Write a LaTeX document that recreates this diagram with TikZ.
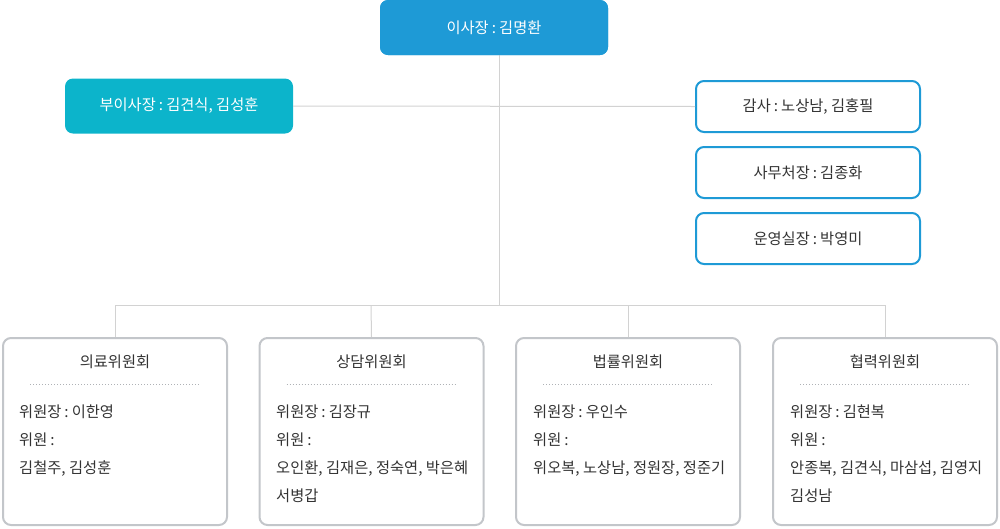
\documentclass[tikz,border=0pt]{standalone}
\usepackage{fontspec}
\setmainfont{Noto Sans CJK KR}
\definecolor{topblue}{HTML}{1E9AD6}
\definecolor{teal}{HTML}{0CB4CB}
\definecolor{boxgray}{HTML}{C3C6CA}
\definecolor{linegray}{HTML}{D2D2D2}
\definecolor{txt}{HTML}{333333}
\newcommand{\cl}{\hspace{0.2em}:\hspace{0.2em}}
\begin{document}
\begin{tikzpicture}[x=1pt,y=-1pt,
  filledbox/.style={rounded corners=8pt,minimum width=228pt,minimum height=55pt,text=white,font=\fontsize{15.3pt}{17pt}\selectfont,inner sep=0pt},
  sidebox/.style={draw=topblue,line width=2pt,fill=white,rounded corners=8pt,minimum width=224pt,minimum height=51pt,text=txt,font=\fontsize{15.3pt}{17pt}\selectfont,inner sep=0pt},
  combox/.style={draw=boxgray,line width=2pt,fill=white,rounded corners=8pt,minimum width=224pt,minimum height=187pt,inner sep=0pt},
  conn/.style={draw=linegray,line width=1pt},
  ttl/.style={text=txt,font=\fontsize{15.3pt}{17pt}\selectfont,inner sep=0pt},
  body/.style={text=txt,font=\fontsize{15.3pt}{28pt}\selectfont,inner sep=0pt,anchor=north west,align=left}
]
\useasboundingbox (0,0) rectangle (1000,528);
\coordinate (bus) at (499,305);
\node[filledbox,fill=topblue] (ceo) at (494,27.5) {};
\node[filledbox,fill=teal] (vice) at (179,106) {부이사장\cl 김견식, 김성훈};
\node[sidebox] (aud) at (808,106.5) {감사\cl 노상남, 김홍필};
\node[sidebox] (sec) at (808,172.5) {사무처장\cl 김종화};
\node[sidebox] (ops) at (808,238.5) {운영실장\cl 박영미};
\coordinate (c1) at (115,305);
\coordinate (c2) at (371,305);
\coordinate (c3) at (628,305);
\coordinate (c4) at (885,305);
\draw[conn] (499,55) -- (bus);
\draw[conn] (vice.east) -- (aud.west);
\draw[conn] (c1) -- (c4);
\node[combox] (m1) at (115,431.5) {};
\node[combox] (m2) at (371.5,431.5) {};
\node[combox] (m3) at (628,431.5) {};
\node[combox] (m4) at (885,431.5) {};
\draw[conn] (c1) -- (m1.north);
\draw[conn] (c2) -- (m2.north);
\draw[conn] (c3) -- (m3.north);
\draw[conn] (c4) -- (m4.north);
\node[filledbox,fill=topblue] at (ceo) {이사장\cl 김명환};
\node[ttl] (t1) at (115,362) {의료위원회};
\node[ttl] (t2) at (371.5,362) {상담위원회};
\node[ttl] (t3) at (628,362) {법률위원회};
\node[ttl] (t4) at (885,362) {협력위원회};
\foreach \c in {115,371.5,628,885}{
  \draw[boxgray!90!black,line width=1pt,dash pattern=on 1pt off 2pt] (\c-85,384) -- (\c+85,384);
}
\node[body] (b1) at (19,405) {위원장\cl 이한영\\위원\cl\\김철주, 김성훈};
\node[body] (b2) at (276,405) {위원장\cl 김장규\\위원\cl\\오인환, 김재은, 정숙연, 박은혜\\서병갑};
\node[body] (b3) at (533,405) {위원장\cl 우인수\\위원\cl\\위오복, 노상남, 정원장, 정준기};
\node[body] (b4) at (790,405) {위원장\cl 김현복\\위원\cl\\안종복, 김견식, 마삼섭, 김영지\\김성남};
\end{tikzpicture}
\end{document}
